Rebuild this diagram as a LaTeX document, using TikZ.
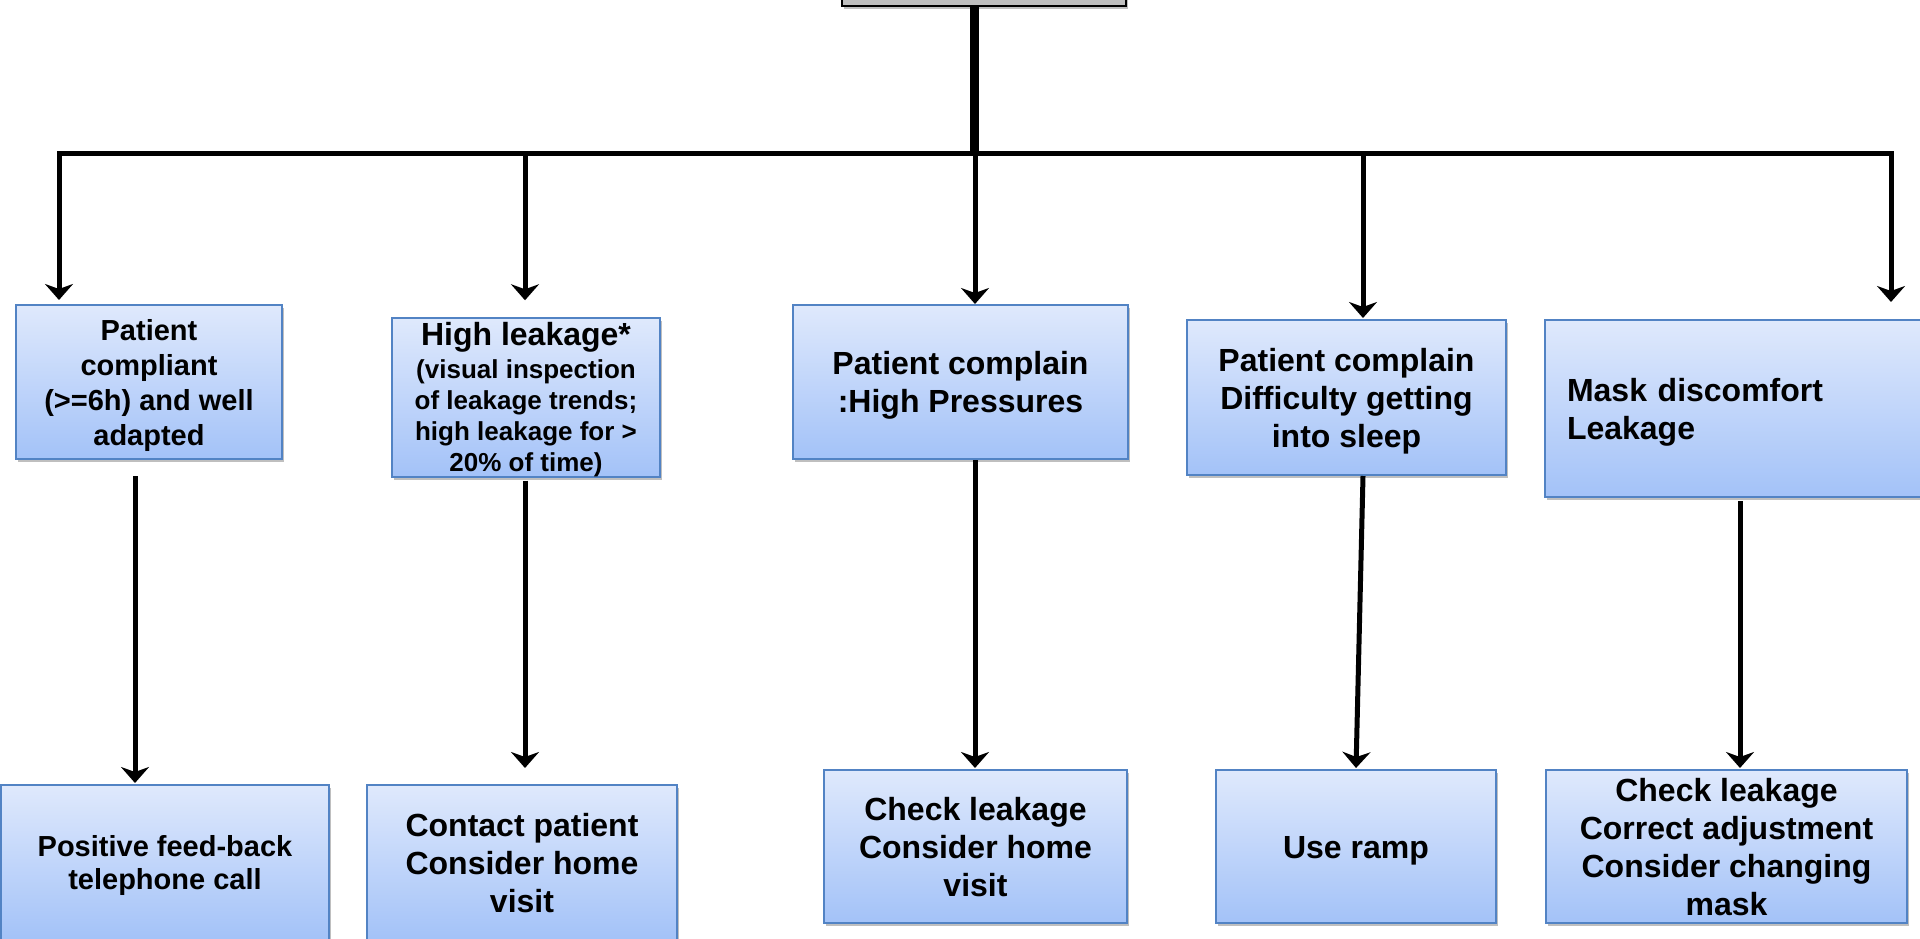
\documentclass[tikz,border=0pt]{standalone}
\usepackage{fontspec}
\setmainfont{Liberation Sans}
\usetikzlibrary{arrows.meta,shadows}

\definecolor{boxtop}{HTML}{DFE9FC}
\definecolor{boxbot}{HTML}{A3C2F8}
\definecolor{boxline}{HTML}{5283C4}
\definecolor{headfill}{HTML}{BFBFBF}

% stacked lines, set a little low in their box
\newcommand{\cstack}[1]{\raisebox{-4pt}[\height][\depth]{\begin{tabular}{@{}c@{}}#1\end{tabular}}}
\newcommand{\lstack}[1]{\raisebox{-4pt}[\height][\depth]{\begin{tabular}{@{}l@{}}#1\end{tabular}}}

\tikzset{
  stepbox/.style={rectangle, draw=boxline, line width=2pt,
    top color=boxtop, bottom color=boxbot,
    drop shadow={shadow xshift=2pt, shadow yshift=-3pt, opacity=0.25, fill=black},
    inner sep=0pt,
    font=\bfseries\fontsize{32}{38}\selectfont},
  headbox/.style={rectangle, draw=black, line width=2pt, fill=headfill,
    drop shadow={shadow xshift=2pt, shadow yshift=-3pt, opacity=0.25, fill=black},
    inner sep=0pt},
  link/.style={line width=5pt, -{Stealth[length=16pt,width=28pt,inset=5pt]}},
  trunkline/.style={line width=9pt},
}

\begin{document}
\begin{tikzpicture}[x=1pt,y=-1pt]
\useasboundingbox (0,0) rectangle (1920,939);

% header box, mostly above the page
\node[headbox, minimum width=284pt, minimum height=40pt] (head) at (984,-14) {};

% first level: conditions found
\node[stepbox, minimum width=266pt, minimum height=154pt,
      font=\bfseries\fontsize{29}{35}\selectfont] (p1) at (149,382)
  {\cstack{Patient\\compliant\\(>=6h) and well\\adapted}};
\node[stepbox, minimum width=268pt, minimum height=155pt,
      font=\bfseries\fontsize{26}{31}\selectfont] (p2) at (526,397.5)
  {\cstack{{\fontsize{32}{36}\selectfont High leakage*}\\[2pt](visual inspection\\of leakage trends;\\high leakage for >\\20\% of time)}};
\node[stepbox, minimum width=335pt, minimum height=154pt] (p3) at (960.5,382)
  {\cstack{Patient complain\\:High Pressures}};
\node[stepbox, minimum width=319pt, minimum height=155pt] (p4) at (1346.5,397.5)
  {\cstack{Patient complain\\Difficulty getting\\into sleep}};
\node[stepbox, minimum width=390pt, minimum height=177pt,
      text width=346pt, inner xsep=22pt] (p5) at (1740,408.5)
  {\lstack{Mask discomfort\\Leakage}};

% second level: actions
\node[stepbox, minimum width=328pt, minimum height=155pt,
      font=\bfseries\fontsize{29}{33}\selectfont] (q1) at (165,862.5)
  {\cstack{Positive feed-back\\telephone call}};
\node[stepbox, minimum width=310pt, minimum height=155pt] (q2) at (522,862.5)
  {\cstack{Contact patient\\Consider home\\visit}};
\node[stepbox, minimum width=303pt, minimum height=153pt] (q3) at (975.5,846.5)
  {\cstack{Check leakage\\Consider home\\visit}};
\node[stepbox, minimum width=280pt, minimum height=153pt] (q4) at (1356,846.5)
  {\cstack{Use ramp}};
\node[stepbox, minimum width=361pt, minimum height=153pt] (q5) at (1726.5,846.5)
  {\cstack{Check leakage\\Correct adjustment\\Consider changing\\mask}};

% distribution bus
\coordinate (bus) at (974,154);
\coordinate (c1) at (59,154);
\coordinate (c2) at (525,154);
\coordinate (c3) at (975,154);
\coordinate (c4) at (1363,154);
\coordinate (c5) at (1891,154);
\coordinate (e1) at (135,0);

\draw[trunkline] (head.south -| bus) -- ([yshift=-2pt]bus);
\draw[link, line join=miter, shorten >=4pt] (c3) -- (c1) -- (c1 |- p1.north);
\draw[link, line join=miter, shorten >=17pt] (c3) -- (c5) -- (c5 |- p5.north);
\draw[link, shorten >=17pt] (c2) -- (c2 |- p2.north);
\draw[link] (c3) -- (c3 |- p3.north);
\draw[link, shorten >=1pt] (c4) -- (c4 |- p4.north);

% conditions to actions
\draw[link, shorten >=1pt] (p1.south -| e1) ++(0,16) -- (e1 |- q1.north);
\draw[link, shorten >=16pt] ([yshift=-3pt]p2.south -| c2) -- (c2 |- q2.north);
\draw[link, shorten >=1pt] (p3.south -| c3) -- (c3 |- q3.north);
\draw[link, shorten >=1pt] (p4.south -| c4) -- (q4.north);
\draw[link, shorten >=1pt] ([yshift=-3pt]p5.south) -- (p5.south |- q5.north);
\end{tikzpicture}
\end{document}
